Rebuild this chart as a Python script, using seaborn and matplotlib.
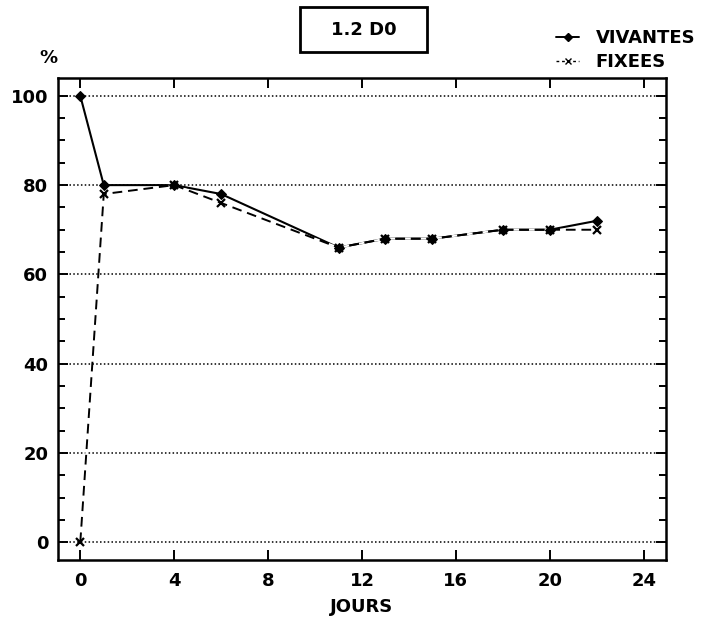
import numpy as np
import pandas as pd
import matplotlib
matplotlib.use("Agg")
import matplotlib.pyplot as plt
import seaborn as sns
from matplotlib.ticker import MultipleLocator
from matplotlib.lines import Line2D
from matplotlib.patches import Rectangle

jours = [0, 1, 4, 6, 11, 13, 15, 18, 20, 22]
vivantes = [100, 80, 80, 78, 66, 68, 68, 70, 70, 72]
fixees = [0, 78, 80, 76, 66, 68, 68, 70, 70, 70]
series_names = ["VIVANTES", "FIXEES"]
title_text = "1.2 D0"
x_ticks = [0, 4, 8, 12, 16, 20, 24]
y_ticks = [0, 20, 40, 60, 80, 100]

sns.set_style("white")
plt.rcParams['font.family'] = ['DejaVu Sans', 'DejaVu Sans Mono']
plt.rcParams['font.weight'] = 'bold'
for k in ['text.color', 'xtick.color', 'ytick.color', 'axes.labelcolor', 'axes.edgecolor']:
    plt.rcParams[k] = 'black'

W, H = 712, 621
fig = plt.figure(figsize=(7.12, 6.21), dpi=100)
ax = fig.add_axes([58/W, 1-560/H, (666-58)/W, (560-78)/H])

# solid line of the living series first, dashed series on top (gaps white)
sns.lineplot(x=jours, y=vivantes, color="black", linestyle="-", linewidth=1.5, ax=ax)
sns.lineplot(x=jours, y=fixees, color="black", linestyle=(0, (5, 3)), linewidth=1.4,
             gapcolor="white",
             marker="x", markersize=6, markeredgewidth=1.6, markeredgecolor="black", ax=ax)
sns.lineplot(x=jours, y=vivantes, color="black", linestyle="none",
             marker="D", markersize=5, markeredgecolor="black", ax=ax)

ax.set_xlim(-0.95, 24.95)
ax.set_ylim(-4, 104)
ax.set_xticks(x_ticks)
ax.set_yticks(y_ticks)
ax.yaxis.set_minor_locator(MultipleLocator(5))
ax.tick_params(axis='both', which='both', direction='in', top=True, right=True,
               left=True, bottom=True, length=7, width=1.4, labelsize=13,
               colors='black')
ax.tick_params(axis='y', which='both', pad=7)
ax.tick_params(axis='x', which='both', pad=9)
ax.tick_params(axis='y', which='minor', length=5)
for s in ax.spines.values():
    s.set_linewidth(1.8)
    s.set_color("black")
ax.grid(axis='y', which='major', linestyle=(0, (1, 1.5)), color='black', linewidth=1.1)
ax.set_axisbelow(True)
ax.set_xlabel("")
ax.set_ylabel("")
fig.text(362/W, 1-607/H, "JOURS", fontsize=13, fontweight='bold', ha='center', va='center',
         color='black')
fig.text(48/W, 1-58/H, "%", fontsize=13, fontweight='bold', ha='center', va='center',
         color='black')

fig.patches.append(Rectangle((300/W, 1-52/H), 127/W, 45/H, transform=fig.transFigure,
                             fill=False, ec='black', lw=2.0))
fig.text(364/W, 1-30/H, title_text, fontsize=13, fontweight='bold', ha='center', va='center',
         color='black')

handles = [
    Line2D([], [], color='black', marker='D', markersize=4, linestyle='-', lw=1.4),
    Line2D([], [], color='black', marker='x', markersize=5, linestyle=(0, (2, 2)), lw=1.0),
]
leg = fig.legend(handles, series_names, loc='center left', bbox_to_anchor=(556/W, 1-50/H),
                 frameon=False, handlelength=1.3, labelspacing=0.35, handletextpad=0.9,
                 borderaxespad=0, borderpad=0,
                 prop={'weight': 'bold', 'size': 13})
for t in leg.get_texts():
    t.set_color('black')

fig.savefig("out.png", dpi=100)
